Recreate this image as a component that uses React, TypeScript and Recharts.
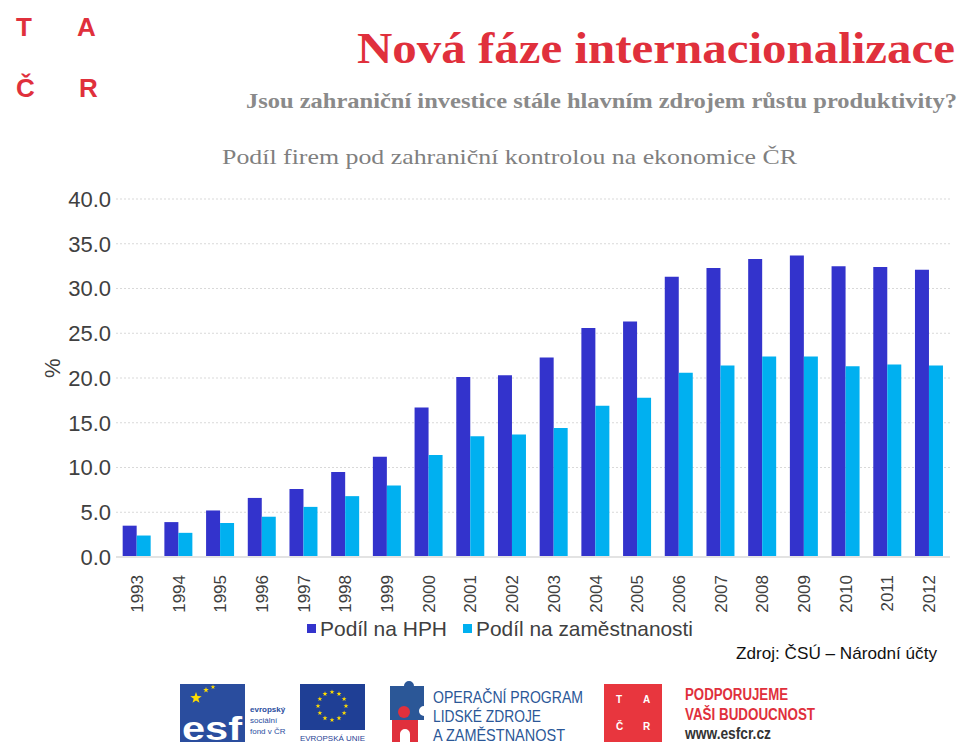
import React from "react";
import { BarChart, Bar, XAxis, YAxis, CartesianGrid, Label } from "recharts";

const years = ["1993","1994","1995","1996","1997","1998","1999","2000","2001","2002","2003","2004","2005","2006","2007","2008","2009","2010","2011","2012"];
const hph = [3.5,3.9,5.2,6.6,7.6,9.5,11.2,16.7,20.1,20.3,22.3,25.6,26.3,31.3,32.3,33.3,33.7,32.5,32.4,32.1];
const emp = [2.4,2.7,3.8,4.5,5.6,6.8,8.0,11.4,13.5,13.7,14.4,16.9,17.8,20.6,21.4,22.4,22.4,21.3,21.5,21.4];
const yTicks = [0,5,10,15,20,25,30,35,40];
const seriesNames = ["Podíl na HPH", "Podíl na zaměstnanosti"];
const seriesColors = ["#3333CC", "#00B0F0"];

const data = years.map((y, i) => ({ year: y, hph: hph[i], emp: emp[i] }));

const SANS = "'Liberation Sans', Arial, sans-serif";
const SERIF = "'Liberation Serif', 'Times New Roman', serif";

const YearTick = (props: any) => {
  const { x, y, payload } = props;
  return (
    <text
      transform={`translate(${x + 6},${y + 10}) rotate(-90)`}
      textAnchor="end"
      fontFamily={SANS}
      fontSize={17}
      fill="#404040"
    >
      {payload.value}
    </text>
  );
};

function Star({ cx, cy, r, fill }: { cx: number; cy: number; r: number; fill: string }) {
  const pts: string[] = [];
  for (let i = 0; i < 10; i++) {
    const a = -Math.PI / 2 + (i * Math.PI) / 5;
    const rr = i % 2 === 0 ? r : r * 0.4;
    pts.push(`${cx + rr * Math.cos(a)},${cy + rr * Math.sin(a)}`);
  }
  return <polygon points={pts.join(" ")} fill={fill} />;
}

function Overlay() {
  const euStars = Array.from({ length: 12 }, (_, i) => {
    const a = (i * Math.PI * 2) / 12;
    return <Star key={i} cx={332 + 14 * Math.cos(a)} cy={706 + 14 * Math.sin(a)} r={2.6} fill="#FFDD00" />;
  });
  return (
    <svg width={960} height={755} style={{ position: "absolute", left: 0, top: 0, pointerEvents: "none" }}>
      {/* top-left TAČR */}
      <g fontFamily={SANS} fontWeight="bold" fontSize={26} fill="#E0303C">
        <text x={16} y={36}>T</text>
        <text x={77} y={36}>A</text>
        <text x={16} y={97}>Č</text>
        <text x={79} y={97}>R</text>
      </g>
      <text x={357} y={63} fontFamily={SERIF} fontWeight="bold" fontSize={44} fill="#E0303C" textLength={598} lengthAdjust="spacingAndGlyphs">Nová fáze internacionalizace</text>
      <text x={246} y={108} fontFamily={SERIF} fontWeight="bold" fontSize={21} fill="#8A8A8A" textLength={711} lengthAdjust="spacingAndGlyphs">Jsou zahraniční investice stále hlavním zdrojem růstu produktivity?</text>
      <text x={222} y={164} fontFamily={SERIF} fontSize={21} fill="#7F7F7F" textLength={575} lengthAdjust="spacingAndGlyphs">Podíl firem pod zahraniční kontrolou na ekonomice ČR</text>

      {/* legend */}
      <rect x={307} y={624} width={9} height={9} fill={seriesColors[0]} />
      <text x={320} y={636} fontFamily={SANS} fontSize={21} fill="#404040" textLength={127} lengthAdjust="spacingAndGlyphs">{seriesNames[0]}</text>
      <rect x={463} y={624} width={9} height={9} fill={seriesColors[1]} />
      <text x={476} y={636} fontFamily={SANS} fontSize={21} fill="#404040" textLength={217} lengthAdjust="spacingAndGlyphs">{seriesNames[1]}</text>

      <text x={736} y={659} fontFamily={SANS} fontSize={17} fill="#111" textLength={201} lengthAdjust="spacingAndGlyphs">Zdroj: ČSÚ – Národní účty</text>

      {/* ESF logo */}
      <rect x={180} y={684} width={65} height={58} fill="#2A4D9E" />
      <Star cx={196} cy={698} r={6} fill="#FFDD00" />
      <Star cx={206} cy={690} r={3} fill="#FFDD00" />
      <Star cx={213} cy={687} r={2.5} fill="#FFDD00" />
      <text x={182} y={740} fontFamily={SANS} fontWeight="bold" fontSize={34} fill="#FFFFFF" textLength={60} lengthAdjust="spacingAndGlyphs">esf</text>
      <g fontFamily={SANS} fontSize={8} fill="#2A4D9E">
        <text x={250} y={712} fontWeight="bold">evropský</text>
        <text x={250} y={723}>sociální</text>
        <text x={250} y={734}>fond v ČR</text>
      </g>
      {/* EU flag */}
      <rect x={300} y={684} width={65} height={46} fill="#1F3F95" />
      {euStars}
      <text x={300} y={741} fontFamily={SANS} fontSize={7.5} fill="#1F3F95" textLength={65} lengthAdjust="spacingAndGlyphs">EVROPSKÁ UNIE</text>
      {/* OP puzzle */}
      <path d="M390 686 h14 a5 5 0 0 1 10 0 h10 v20 a5 5 0 0 0 0 10 v4 h-34 z" fill="#2B5797" />
      <circle cx={404} cy={712} r={6} fill="#E0303C" />
      <path d="M392 720 h26 v22 h-8 v-8 a5 5 0 0 0 -10 0 v8 h-8 z" fill="#E0303C" />
      <g fontFamily={SANS} fontSize={17} fill="#2B5797">
        <text x={433} y={703} textLength={150} lengthAdjust="spacingAndGlyphs">OPERAČNÍ PROGRAM</text>
        <text x={433} y={722} textLength={108} lengthAdjust="spacingAndGlyphs">LIDSKÉ ZDROJE</text>
        <text x={433} y={741} textLength={132} lengthAdjust="spacingAndGlyphs">A ZAMĚSTNANOST</text>
      </g>
      {/* TAČR square */}
      <rect x={604} y={684} width={58} height={58} fill="#E8363E" />
      <g fontFamily={SANS} fontWeight="bold" fontSize={10} fill="#FFFFFF">
        <text x={616} y={703}>T</text>
        <text x={643} y={703}>A</text>
        <text x={616} y={730}>Č</text>
        <text x={643} y={730}>R</text>
      </g>
      <g fontFamily={SANS} fontWeight="bold" fontSize={16}>
        <text x={685} y={700} fill="#E0303C" textLength={103} lengthAdjust="spacingAndGlyphs">PODPORUJEME</text>
        <text x={685} y={720} fill="#E0303C" textLength={130} lengthAdjust="spacingAndGlyphs">VAŠI BUDOUCNOST</text>
        <text x={685} y={739} fill="#333333" textLength={86} lengthAdjust="spacingAndGlyphs">www.esfcr.cz</text>
      </g>
    </svg>
  );
}

export default function App() {
  return (
    <div style={{ position: "absolute", left: 0, top: 0, width: 960, height: 755, background: "#fff", overflow: "hidden" }}>
      <div style={{ position: "absolute", left: 0, top: 0 }}>
        <BarChart
          width={960}
          height={640}
          data={data}
          margin={{ top: 199, right: 10, left: 40, bottom: 0 }}
          barCategoryGap="16%"
          barGap={0}
        >
          <CartesianGrid vertical={false} stroke="#D9D9D9" strokeDasharray="2 2" />
          <XAxis
            dataKey="year"
            height={83}
            interval={0}
            tickLine={false}
            axisLine={{ stroke: "#E3E3E3", strokeWidth: 2 }}
            tick={<YearTick />}
          />
          <YAxis
            width={76}
            domain={[0, 40]}
            ticks={yTicks}
            interval={0}
            tickFormatter={(v: number) => v.toFixed(1)}
            axisLine={false}
            tickLine={false}
            tickSize={3}
            tickMargin={2}
            tick={{ fill: "#404040", fontSize: 22, fontFamily: SANS }}
          >
            <Label value="%" angle={-90} position="insideLeft" offset={12} style={{ fill: "#404040", fontSize: 22, fontFamily: SANS }} />
          </YAxis>
          <Bar dataKey="hph" name={seriesNames[0]} fill={seriesColors[0]} isAnimationActive={false} />
          <Bar dataKey="emp" name={seriesNames[1]} fill={seriesColors[1]} isAnimationActive={false} />
        </BarChart>
      </div>
      <Overlay />
    </div>
  );
}
